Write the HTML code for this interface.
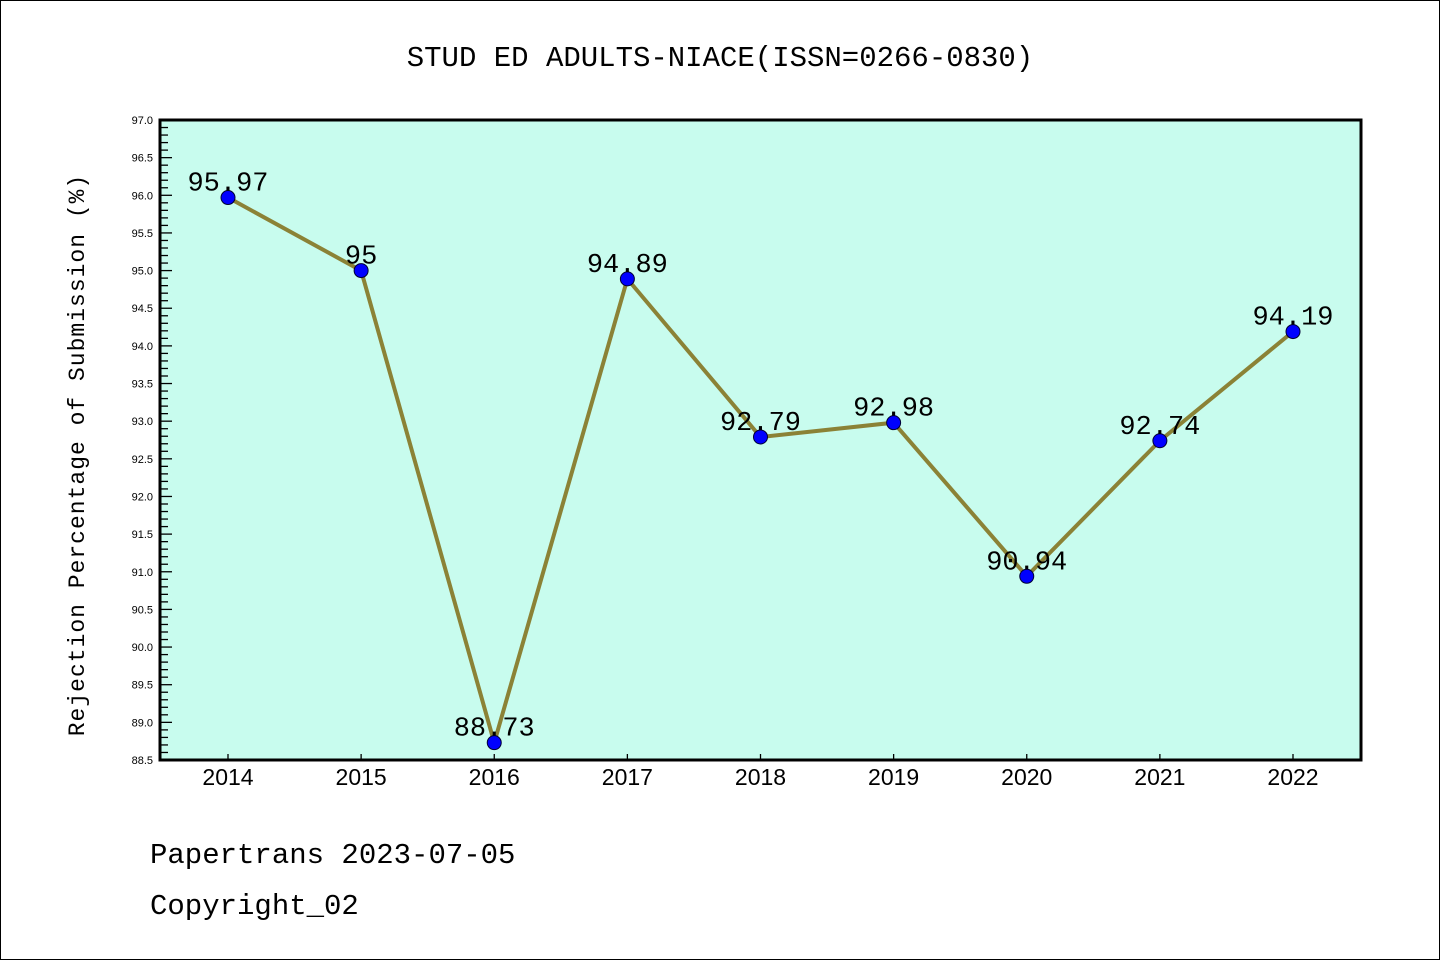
<!DOCTYPE html>
<html><head><meta charset="utf-8"><style>
body{margin:0;background:#fff;}
svg{display:block;font-family:"Liberation Mono","DejaVu Sans Mono",monospace;}
</style></head><body>
<svg id="c" width="1440" height="960">
<rect x="0.5" y="0.5" width="1439" height="959" fill="#fff" stroke="#000"/>
<text x="720" y="66" text-anchor="middle" font-size="29">STUD ED ADULTS-NIACE(ISSN=0266-0830)</text>
<rect x="160" y="120" width="1201" height="640" fill="#c8fcee"/>
<g id="ticks"></g>
<g id="series"></g>
<rect x="160" y="120" width="1201" height="640" fill="none" stroke="#000" stroke-width="3"/>
<text transform="translate(84,455) rotate(-90)" text-anchor="middle" font-size="23" letter-spacing="1">Rejection Percentage of Submission (%)</text>
<text x="150" y="863" font-size="29">Papertrans 2023-07-05</text>
<text x="150" y="914" font-size="29">Copyright_02</text>
</svg>
<script>
const years=["2014","2015","2016","2017","2018","2019","2020","2021","2022"];
const values=[95.97,95,88.73,94.89,92.79,92.98,90.94,92.74,94.19];
const labels=["95.97","95","88.73","94.89","92.79","92.98","90.94","92.74","94.19"];
const yTicks=["88.5","89.0","89.5","90.0","90.5","91.0","91.5","92.0","92.5","93.0","93.5","94.0","94.5","95.0","95.5","96.0","96.5","97.0"];
const NS="http://www.w3.org/2000/svg";
const yMin=88.5,yMax=97.0,yTopPx=120,yBotPx=760;
const sy=v=>yBotPx-(v-yMin)/(yMax-yMin)*(yBotPx-yTopPx);
const sx=i=>228+i*(1293-228)/(years.length-1);
function mk(t,a,p){const e=document.createElementNS(NS,t);for(const k in a)e.setAttribute(k,a[k]);p.appendChild(e);return e;}
const tg=document.getElementById('ticks'),sg=document.getElementById('series');
for(let k=0;k<=85;k++){const v=yMin+k*0.1;const major=k%5===0;
 const l=mk('line',{x1:160,x2:160+(major?12:8),y1:sy(v),y2:sy(v),stroke:'#000','stroke-width':1.3},tg);
 
 }
yTicks.forEach(s=>{const t=mk('text',{x:153,y:sy(parseFloat(s))+4,'text-anchor':'end','font-size':11,'font-family':'Liberation Sans, sans-serif'},tg);t.textContent=s;
 
 });
years.forEach((yr,i)=>{const l=mk('line',{x1:sx(i),x2:sx(i),y1:760,y2:754,stroke:'#000','stroke-width':1.3},tg);
 
 
 const t=mk('text',{x:sx(i),y:785,'text-anchor':'middle','font-size':23,'font-family':'Liberation Sans, sans-serif'},tg);t.textContent=yr;
 
 });
const pl=mk('polyline',{points:values.map((v,i)=>sx(i)+','+sy(v)).join(' '),fill:'none',stroke:'#8b8236','stroke-width':4,'stroke-linejoin':'round'},sg);


values.forEach((v,i)=>{const c=mk('circle',{cx:sx(i),cy:sy(v),r:7,fill:'#0000ff',stroke:'#000033','stroke-width':1},sg);
 
 
 const t=mk('text',{x:sx(i),y:sy(v)-7,'text-anchor':'middle','font-size':27},sg);t.textContent=labels[i];
 
 });
</script>
</body></html>
